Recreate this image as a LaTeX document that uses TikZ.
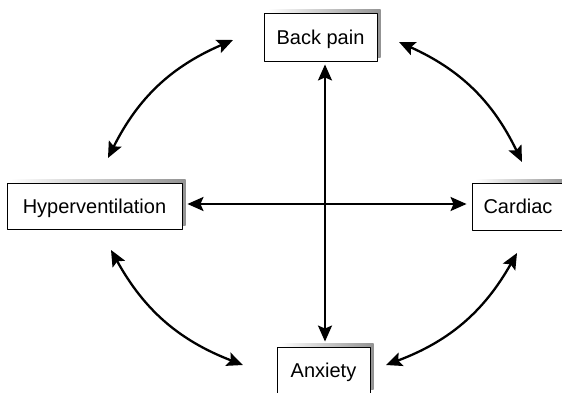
\documentclass[tikz,border=0pt]{standalone}
\usepackage{fontspec}
\setmainfont{Liberation Sans}
\usetikzlibrary{arrows.meta,shadows}
\tikzset{
  every picture/.append style={line cap=round,line join=round}
}
\begin{document}
\begin{tikzpicture}[
  x=1pt,y=-1pt,
  box/.style={draw=black,line width=0.9pt,fill=white,inner sep=0pt,
    font=\fontsize{20}{24}\selectfont,text height=14.5pt,text depth=0pt,
    general shadow={shadow xshift=3.5pt,shadow yshift=3.5pt,left color=white,right color=gray!85}},
  link/.style={line width=2.3pt,{Stealth[length=16pt,width=14pt,inset=3pt]}-{Stealth[length=16pt,width=14pt,inset=3pt]}},
  bend angle=20
]
\useasboundingbox (0,0) rectangle (562,393);
\clip (0,0) rectangle (562,393);

\node[box,minimum width=113pt,minimum height=48pt] (back) at (320.5,37) {Back pain};
\node[box,minimum width=175pt,minimum height=46pt] (hyper) at (94.5,206) {Hyperventilation};
\node[box,minimum width=92pt,minimum height=47pt] (cardiac) at (518,206.5) {Cardiac};
\node[box,minimum width=93pt,minimum height=46pt] (anx) at (323.5,370) {Anxiety};

\coordinate (vx) at (325,0);
\coordinate (hy) at (0,204);
\draw[link,shorten <=3pt,shorten >=5pt] (back.south -| vx) -- (anx.north -| vx);
\draw[link,shorten <=5pt,shorten >=5pt] (hyper.east |- hy) -- (cardiac.west |- hy);

% curved links round the outside
\coordinate (tl1) at (233,40);  \coordinate (tl2) at (108,158);
\coordinate (tr1) at (399,42);  \coordinate (tr2) at (522,162);
\coordinate (bl1) at (111,250); \coordinate (bl2) at (243,365);
\coordinate (br1) at (386,365); \coordinate (br2) at (517,253);
\draw[link] (tl1) to[bend right] (tl2);
\draw[link] (tr1) to[bend left] (tr2);
\draw[link] (bl1) to[bend right] (bl2);
\draw[link] (br1) to[bend right] (br2);
\end{tikzpicture}
\end{document}
